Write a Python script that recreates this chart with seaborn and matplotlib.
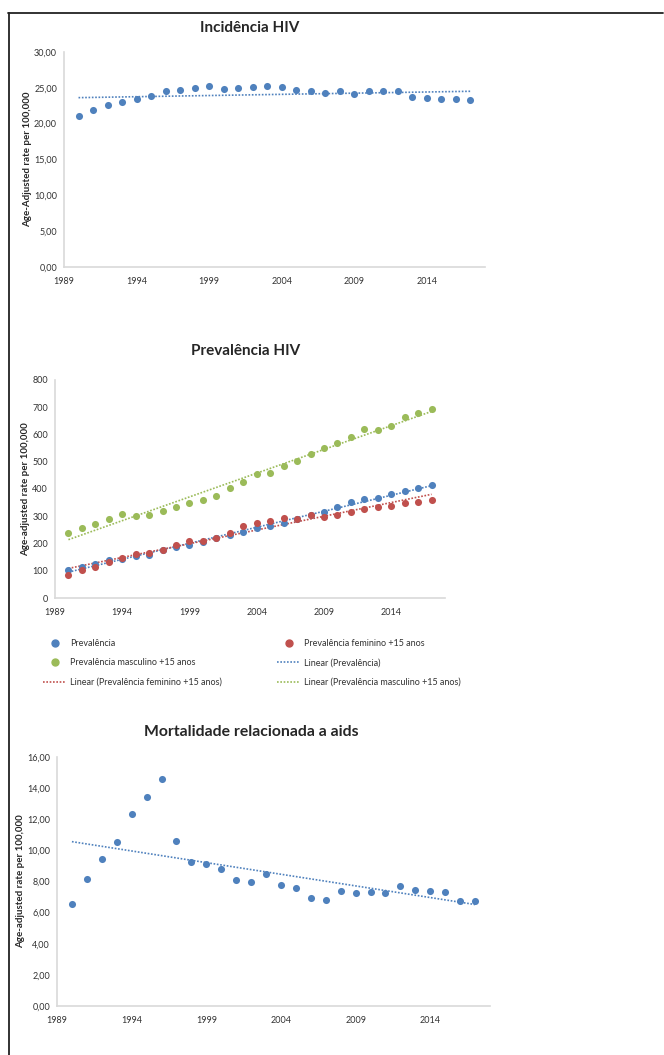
"""
HIV incidence, prevalence and AIDS mortality (age-adjusted rates)
"""
# %% Import libraries
import numpy as np
import pandas as pd
import seaborn as sns
import matplotlib.pyplot as plt
from matplotlib.lines import Line2D

# %% Data
years = list(range(1990, 2018))

incidencia = [21.1, 21.9, 22.6, 23.0, 23.5, 23.9, 24.5, 24.7, 25.0, 25.2,
              24.9, 25.0, 25.1, 25.2, 25.1, 24.7, 24.6, 24.3, 24.5, 24.2,
              24.6, 24.5, 24.5, 23.7, 23.6, 23.5, 23.4, 23.3]

prevalencia = [104, 115, 126, 138, 143, 154, 156, 176, 186, 193,
               206, 220, 233, 243, 256, 265, 276, 289, 304, 317,
               333, 353, 364, 367, 380, 391, 402, 413]

prev_feminino = [85, 104, 114, 132, 145, 160, 165, 177, 194, 209,
                 210, 222, 237, 265, 277, 284, 293, 289, 305, 299,
                 305, 316, 327, 333, 339, 347, 353, 361]

prev_masculino = [239, 256, 272, 291, 308, 302, 305, 319, 333, 347,
                  359, 374, 402, 427, 455, 459, 485, 502, 530, 551,
                  569, 592, 619, 617, 632, 663, 680, 695]

mortalidade = [6.58, 8.16, 9.42, 10.52, 12.32, 13.45, 14.61, 10.62, 9.27, 9.12,
               8.80, 8.12, 7.97, 8.48, 7.77, 7.56, 6.92, 6.81, 7.37, 7.28,
               7.32, 7.28, 7.71, 7.43, 7.39, 7.35, 6.77, 6.73]

x_ticks = [1989, 1994, 1999, 2004, 2009, 2014]

BLUE = '#4F81BD'
RED = '#C0504D'
GREEN = '#9BBB59'
DOT = (0, (1, 1))
FONT = ['Lato', 'DejaVu Sans']

# %% Style
sns.set_style('white')
plt.rcParams['font.family'] = FONT

W, H = 664, 1055
fig = plt.figure(figsize=(W / 100, H / 100), dpi=100)


def px_axes(left, top, right, bottom):
    return fig.add_axes([left / W, 1 - bottom / H,
                         (right - left) / W, (bottom - top) / H])


def style_axes(ax, ylim, yticks, fmt, ylabel):
    ax.set_xlim(1989, 2018)
    ax.set_ylim(*ylim)
    ax.set_xticks(x_ticks)
    ax.set_xticklabels([str(t) for t in x_ticks])
    ax.set_yticks(yticks)
    ax.set_yticklabels([fmt(v) for v in yticks])
    ax.tick_params(axis='both', length=0, labelsize=6.5, colors='#333333')
    ax.tick_params(axis='x', pad=7)
    ax.tick_params(axis='y', pad=5)
    sns.despine(ax=ax)
    for side in ['left', 'bottom']:
        ax.spines[side].set_color('#D9D9D9')
        ax.spines[side].set_linewidth(1.2)
    ax.set_xlabel('')
    ax.set_ylabel(ylabel, fontsize=7, fontweight='bold', labelpad=1.5)


def comma2(v):
    return f'{v:.2f}'.replace('.', ',')


def scatter_trend(ax, x, y, color):
    df = pd.DataFrame({'ano': x, 'taxa': y})
    sns.scatterplot(data=df, x='ano', y='taxa', color=color, s=26,
                    edgecolor=color, linewidth=0, ax=ax, zorder=3)
    sns.regplot(data=df, x='ano', y='taxa', scatter=False, ci=None, ax=ax,
                line_kws={'color': color, 'linestyle': DOT, 'linewidth': 1.2})


# %% Incidência HIV
ax1 = px_axes(64, 52, 485, 267)
scatter_trend(ax1, years, incidencia, BLUE)
style_axes(ax1, (0, 30), np.arange(0, 31, 5), comma2,
           'Age-Adjusted rate per 100,000')
fig.text(250 / W, 1 - 28 / H, 'Incidência HIV', ha='center', va='center',
         fontsize=11, fontweight='bold')

# %% Prevalência HIV
ax2 = px_axes(55, 380, 445, 598)
scatter_trend(ax2, years, prevalencia, BLUE)
scatter_trend(ax2, years, prev_feminino, RED)
scatter_trend(ax2, years, prev_masculino, GREEN)
style_axes(ax2, (0, 800), np.arange(0, 801, 100), lambda v: f'{v:d}',
           'Age-adjusted rate per 100,000')
fig.text(246 / W, 1 - 351 / H, 'Prevalência HIV', ha='center', va='center',
         fontsize=11, fontweight='bold')


def dot_handle(c):
    return Line2D([], [], marker='o', color=c, linestyle='none', markersize=5)


def line_handle(c):
    return Line2D([], [], color=c, linestyle=DOT, linewidth=1.2)


col1 = [(dot_handle(BLUE), 'Prevalência'),
        (dot_handle(GREEN), 'Prevalência masculino +15 anos'),
        (line_handle(RED), 'Linear (Prevalência feminino +15 anos)')]
col2 = [(dot_handle(RED), 'Prevalência feminino +15 anos'),
        (line_handle(BLUE), 'Linear (Prevalência)'),
        (line_handle(GREEN), 'Linear (Prevalência masculino +15 anos)')]

for items, x0 in [(col1, 43), (col2, 277)]:
    leg = fig.legend([h for h, _ in items], [t for _, t in items],
                     loc='upper left', bbox_to_anchor=(x0 / W, 1 - 639 / H),
                     frameon=False, fontsize=6.5, handlelength=2.6,
                     handletextpad=0.4, labelspacing=1.15, borderpad=0,
                     borderaxespad=0)
    for t in leg.get_texts():
        t.set_color('#333333')

# %% Mortalidade relacionada a aids
ax3 = px_axes(57, 757, 490, 1006)
scatter_trend(ax3, years, mortalidade, BLUE)
style_axes(ax3, (0, 16), np.arange(0, 17, 2), comma2,
           'Age-adjusted rate per 100,000')
fig.text(251 / W, 1 - 732 / H, 'Mortalidade relacionada a aids', ha='center',
         va='center', fontsize=11.3, fontweight='bold')

# %% Frame lines
fig.add_artist(Line2D([8 / W, 663 / W], [1 - 13 / H, 1 - 13 / H],
                      color='#222222', linewidth=1.3))
fig.add_artist(Line2D([9 / W, 9 / W], [1 - 13 / H, 0],
                      color='#222222', linewidth=1.3))

fig.savefig('out.png', dpi=100)
